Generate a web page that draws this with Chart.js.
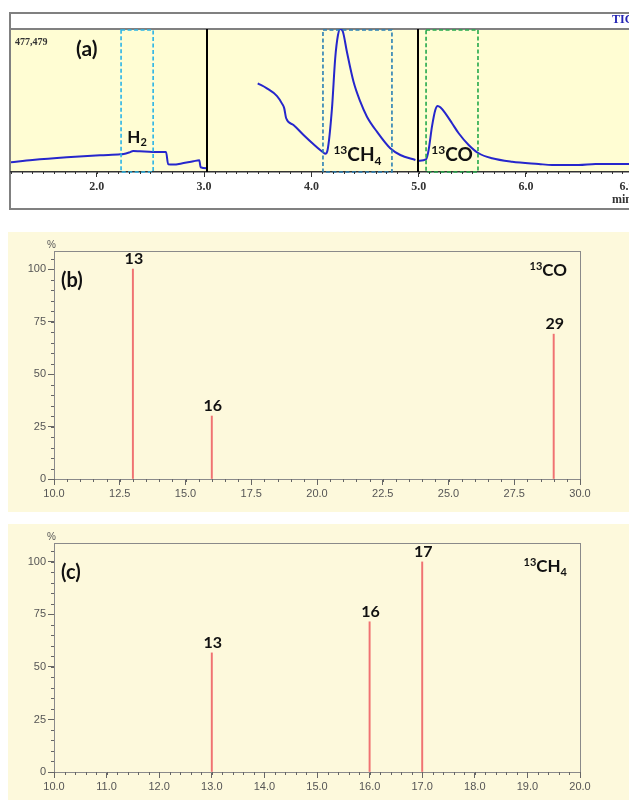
<!DOCTYPE html>
<html lang="en">
<head>
<meta charset="UTF-8">
<title>TIC and mass spectra</title>
<script src="https://cdn.jsdelivr.net/npm/chart.js@4"></script>
<style>
  * { box-sizing: border-box; margin: 0; padding: 0; }
  html, body { width: 629px; height: 800px; overflow: hidden; background: #fff; }
  .panel { position: absolute; left: 0; }
  #wrapA { top: 0; }
  #wrapB { top: 225px; }
  #wrapC { top: 515px; }
</style>
</head>
<body>
<div class="panel" id="wrapA"><canvas id="chartA" width="660" height="215"></canvas></div>
<div class="panel" id="wrapB"><canvas id="chartB" width="629" height="290"></canvas></div>
<div class="panel" id="wrapC"><canvas id="chartC" width="629" height="285"></canvas></div>

<script>
// ---------- Data ----------

// (a) TIC trace, three acquisition windows. time in min, intensity in % of 477,479
const ticTime1 = [1.20, 1.40, 1.72, 2.03, 2.22, 2.25, 2.30, 2.34, 2.40, 2.52, 2.645, 2.665, 2.72, 2.78, 2.90, 2.955, 2.968, 3.028];
const ticVal1  = [6.8, 8.4, 10.3, 11.7, 12.4, 12.6, 13.6, 14.7, 14.5, 14.0, 14.0, 5.4, 5.2, 5.8, 7.5, 8.2, 3.3, 2.6];

const ticTime2 = [3.50, 3.585, 3.68, 3.725, 3.747, 3.765, 3.833, 3.927, 4.02, 4.113, 4.13, 4.151, 4.192, 4.222, 4.248, 4.269, 4.294, 4.331, 4.393, 4.456, 4.518, 4.611, 4.735, 4.829, 4.97];
const ticVal2  = [62.0, 58.5, 53.1, 48.0, 44.5, 37.6, 32.9, 25.9, 19.4, 13.5, 12.8, 15.4, 44.5, 79.5, 95.8, 100, 98.1, 84.1, 63.1, 49.2, 38.7, 28.2, 16.6, 11.9, 8.4];

const ticTime3 = [5.00, 5.069, 5.093, 5.124, 5.155, 5.177, 5.202, 5.249, 5.311, 5.373, 5.466, 5.559, 5.684, 5.871, 6.119, 6.244, 6.492, 6.648, 6.97];
const ticVal3  = [7.9, 8.9, 15.4, 31.7, 43.4, 46.2, 45.2, 41.0, 34.1, 27.1, 18.9, 13.1, 9.6, 7.2, 5.6, 4.9, 4.9, 5.6, 5.6];

const timeTicks     = [2, 3, 4, 5, 6, 6.97];
const segmentBreaks = [3.03, 4.99];

// highlighted windows (H2, 13CH4, 13CO)
const windowStart = [2.226, 4.108, 5.069];
const windowEnd   = [2.525, 4.751, 5.553];

// (b) 13CO spectrum
const coMz    = [13, 16, 29];
const coAbund = [100, 30, 69];
const coTicks = [10, 12.5, 15, 17.5, 20, 22.5, 25, 27.5, 30];

// (c) 13CH4 spectrum
const ch4Mz    = [13, 16, 17];
const ch4Abund = [56.7, 71.5, 100];
const ch4Ticks = [10, 11, 12, 13, 14, 15, 16, 17, 18, 19, 20];

const abundTicks = [0, 25, 50, 75, 100];

// ---------- Helpers ----------

const LABEL_FONT = 'Lato, "Open Sans", sans-serif';

function richWidth(ctx, parts, size) {
  let w = 0;
  for (const [t, kind] of parts) {
    ctx.font = `bold ${kind ? Math.round(size * 0.62) : size}px ${LABEL_FONT}`;
    w += ctx.measureText(t).width;
  }
  return w;
}

// parts: [[text, ''|'sup'|'sub'], ...], x = left, y = baseline
function drawRich(ctx, parts, x, y, size) {
  ctx.textBaseline = 'alphabetic';
  ctx.textAlign = 'left';
  for (const [t, kind] of parts) {
    const s = kind ? Math.round(size * 0.62) : size;
    const dy = kind === 'sup' ? -size * 0.36 : kind === 'sub' ? size * 0.22 : 0;
    ctx.font = `bold ${s}px ${LABEL_FONT}`;
    ctx.fillText(t, x, y + dy);
    x += ctx.measureText(t).width;
  }
}

const minorTicks = {
  id: 'minorTicks',
  afterDraw(chart, _args, opts) {
    const { ctx } = chart;
    ctx.save();
    ctx.strokeStyle = opts.color;
    ctx.lineWidth = 1;
    ctx.beginPath();
    for (const [id, step, len] of opts.axes) {
      const s = chart.scales[id];
      const n = Math.floor((s.max - s.min) / step + 1e-6);
      for (let i = 0; i <= n; i++) {
        const p = Math.round(s.getPixelForValue(s.min + i * step)) + 0.5;
        if (s.isHorizontal()) { ctx.moveTo(p, s.top); ctx.lineTo(p, s.top + len); }
        else { ctx.moveTo(s.right - len, p); ctx.lineTo(s.right, p); }
      }
    }
    ctx.stroke();
    ctx.restore();
  },
};

const points = (xs, ys) => xs.map((x, i) => ({ x, y: ys[i] }));

// ---------- (a) TIC ----------

const WINDOW_COLORS = ['#2ab4e6', '#2a7fb4', '#24a84c'];
const WINDOW_LABELS = [
  { parts: [['H', ''], ['2', 'sub']], size: 17, base: 20.5 },
  { parts: [['13', 'sup'], ['CH', ''], ['4', 'sub']], size: 19, base: 7.7 },
  { parts: [['13', 'sup'], ['CO', '']], size: 19, base: 7.7 },
];

const ticDecor = {
  id: 'ticDecor',
  beforeDraw(chart) {
    const { ctx, chartArea: a, width } = chart;
    ctx.save();
    ctx.fillStyle = '#fff';
    ctx.fillRect(0, 0, chart.width, chart.height);
    ctx.fillStyle = '#fffdd3';
    ctx.fillRect(a.left, a.top, a.width, a.height);
    // outer instrument frame
    ctx.strokeStyle = '#808080';
    ctx.lineWidth = 2;
    ctx.strokeRect(a.left - 1, 13, width, 196);
    ctx.beginPath();
    ctx.moveTo(a.left - 1, a.top);
    ctx.lineTo(width, a.top);
    ctx.stroke();
    ctx.restore();
  },
  afterDatasetsDraw(chart) {
    const { ctx, chartArea: a, scales: { x, y } } = chart;
    ctx.save();
    // acquisition breaks
    ctx.strokeStyle = '#000';
    ctx.lineWidth = 2;
    for (const t of segmentBreaks) {
      const px = Math.round(x.getPixelForValue(t));
      ctx.beginPath();
      ctx.moveTo(px, a.top);
      ctx.lineTo(px, a.bottom);
      ctx.stroke();
    }
    // dashed windows
    ctx.lineWidth = 1.6;
    ctx.setLineDash([4, 2.5]);
    windowStart.forEach((t0, i) => {
      const x0 = x.getPixelForValue(t0), x1 = x.getPixelForValue(windowEnd[i]);
      ctx.strokeStyle = WINDOW_COLORS[i];
      ctx.strokeRect(x0, a.top + 1, x1 - x0, a.bottom - a.top - 1);
    });
    ctx.setLineDash([]);
    // window labels
    ctx.fillStyle = '#111';
    WINDOW_LABELS.forEach((l, i) => {
      const cx = x.getPixelForValue((windowStart[i] + windowEnd[i]) / 2);
      const w = richWidth(ctx, l.parts, l.size);
      drawRich(ctx, l.parts, cx - w / 2, y.getPixelForValue(l.base), l.size);
    });
    // texts
    ctx.textBaseline = 'middle';
    ctx.textAlign = 'left';
    ctx.fillStyle = '#111';
    ctx.font = `bold 21px ${LABEL_FONT}`;
    ctx.fillText('(a)', 76, 49);
    ctx.fillStyle = '#333';
    ctx.font = 'bold 10px "Liberation Serif", serif';
    ctx.fillText('477,479', 15, 42);
    ctx.fillStyle = '#2424b4';
    ctx.font = 'bold 12px "Liberation Serif", serif';
    ctx.fillText('TIC', 612, 20);
    ctx.fillStyle = '#333';
    ctx.fillText('min', 612, 200);
    ctx.restore();
  },
};

new Chart(document.getElementById('chartA'), {
  type: 'line',
  data: {
    datasets: [[ticTime1, ticVal1], [ticTime2, ticVal2], [ticTime3, ticVal3]].map(([t, v]) => ({
      data: points(t, v),
      borderColor: '#2626cc',
      borderWidth: 2,
      pointRadius: 0,
      cubicInterpolationMode: 'monotone',
    })),
  },
  options: {
    responsive: false,
    animation: false,
    events: [],
    layout: { padding: { left: 11, top: 29, right: 30, bottom: 6 } },
    plugins: {
      legend: { display: false },
      tooltip: { enabled: false },
      minorTicks: { color: '#333', axes: [['x', 0.1, 2]] },
    },
    scales: {
      x: {
        type: 'linear', min: 1.2, max: 6.97,
        afterFit: s => { s.height = 37; },
        afterBuildTicks: s => { s.ticks = timeTicks.map(v => ({ value: v })); },
        ticks: {
          autoSkip: false, maxRotation: 0, padding: 3, color: '#333',
          font: { family: '"Liberation Serif", serif', weight: 'bold', size: 12 },
          callback: v => Number.isInteger(v) ? v.toFixed(1) : v.toFixed(2),
        },
        grid: { drawOnChartArea: false, tickLength: 5, tickColor: '#333' },
        border: { color: '#333', width: 1.5 },
      },
      y: { display: false, min: 0, max: 100 },
    },
  },
  plugins: [ticDecor, minorTicks],
});

// ---------- (b), (c) spectra ----------

function spectrum(id, mz, abund, xTicks, xMax, xMinor, yMax, tag, panelRect, padBottom) {
  const decor = {
    id: 'specDecor',
    beforeDraw(chart) {
      const { ctx } = chart;
      ctx.save();
      ctx.fillStyle = '#fff';
      ctx.fillRect(0, 0, chart.width, chart.height);
      ctx.fillStyle = '#fdf9dc';
      ctx.fillRect(...panelRect);
      ctx.restore();
    },
    afterDatasetsDraw(chart) {
      const { ctx, chartArea: a } = chart;
      ctx.save();
      ctx.strokeStyle = '#8a8a8a';
      ctx.lineWidth = 1;
      ctx.strokeRect(Math.round(a.left) + 0.5, Math.round(a.top) + 0.5, Math.round(a.width), Math.round(a.height));
      // peak labels
      ctx.fillStyle = '#111';
      ctx.font = `bold 16px ${LABEL_FONT}`;
      ctx.textAlign = 'center';
      ctx.textBaseline = 'bottom';
      chart.getDatasetMeta(0).data.forEach((bar, i) => {
        ctx.fillText(String(mz[i]), bar.x + 1, bar.y - 2);
      });
      // panel letter, unit, compound
      ctx.textAlign = 'left';
      ctx.textBaseline = 'middle';
      ctx.font = `bold 20px ${LABEL_FONT}`;
      ctx.fillText(tag.letter, a.left + 7, a.top + 30);
      ctx.fillStyle = '#555';
      ctx.font = '10px "Liberation Sans", Arial, sans-serif';
      ctx.fillText('%', a.left - 7, a.top - 6);
      ctx.fillStyle = '#111';
      const w = richWidth(ctx, tag.parts, 17);
      drawRich(ctx, tag.parts, a.right - 13 - w, a.top + tag.base, 17);
      ctx.restore();
    },
  };

  const axisFont = { family: '"Liberation Sans", Arial, sans-serif', size: 11 };

  return new Chart(document.getElementById(id), {
    type: 'bar',
    data: {
      datasets: [{
        data: points(mz, abund),
        backgroundColor: '#f07272',
        barThickness: 1.3,
        borderWidth: 0,
      }],
    },
    options: {
      responsive: false,
      animation: false,
      events: [],
      layout: { padding: { left: 24, top: panelRect[1] + 19, right: 49, bottom: padBottom } },
      plugins: {
        legend: { display: false },
        tooltip: { enabled: false },
        minorTicks: { color: '#666', axes: [['x', xMinor, 3], ['y', 5, 3]] },
      },
      scales: {
        x: {
          type: 'linear', min: 10, max: xMax, offset: false,
          afterFit: s => { s.height = 25; },
          afterBuildTicks: s => { s.ticks = xTicks.map(v => ({ value: v })); },
          ticks: { autoSkip: false, maxRotation: 0, padding: 2, color: '#555', font: axisFont, callback: v => v.toFixed(1) },
          grid: { offset: false, drawOnChartArea: false, tickLength: 6, tickColor: '#666' },
          border: { color: '#8a8a8a' },
        },
        y: {
          min: 0, max: yMax,
          afterFit: s => { s.width = 30; },
          afterBuildTicks: s => { s.ticks = abundTicks.map(v => ({ value: v })); },
          ticks: { padding: 2, color: '#555', font: axisFont },
          grid: { drawOnChartArea: false, tickLength: 6, tickColor: '#666' },
          border: { color: '#8a8a8a' },
        },
      },
    },
    plugins: [decor, minorTicks],
  });
}

spectrum('chartB', coMz, coAbund, coTicks, 30, 0.5, 108.6,
  { letter: '(b)', parts: [['13', 'sup'], ['CO', '']], base: 25 },
  [8, 7, 621, 280], 11);

spectrum('chartC', ch4Mz, ch4Abund, ch4Ticks, 20, 0.2, 109,
  { letter: '(c)', parts: [['13', 'sup'], ['CH', ''], ['4', 'sub']], base: 29 },
  [8, 9, 621, 276], 3);
</script>
</body>
</html>
